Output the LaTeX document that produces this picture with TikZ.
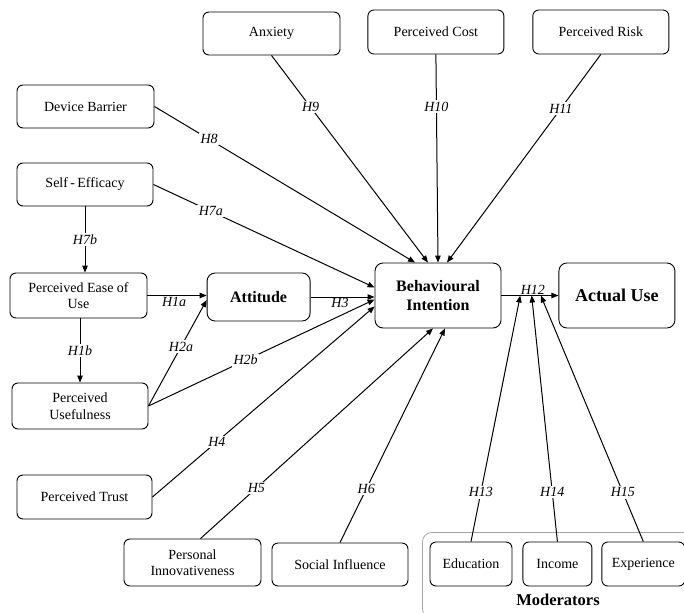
\documentclass[tikz,border=0pt]{standalone}
\usepackage{fontspec}
\setmainfont{Liberation Serif}
\usetikzlibrary{arrows.meta, positioning, fit, calc}

\begin{document}
\begin{tikzpicture}[x=1pt, y=-1pt,
    every node/.style={align=center},
    arrow/.style={-{Triangle[length=7pt, width=5.5pt]}, line width=1pt},
    box/.style={
        draw,
        line width=0.9pt,
        rounded corners=6pt,
        minimum width=136pt,
        minimum height=44pt,
        inner sep=2pt,
        font=\fontsize{14}{16.5}\selectfont
    },
    mainbox/.style={
        box,
        rounded corners=8pt,
        minimum width=126pt,
        minimum height=65pt,
        font=\fontsize{16}{19}\selectfont\bfseries
    },
    hyp/.style={fill=white, inner sep=1.5pt, font=\fontsize{14}{15}\selectfont\itshape},
    hypline/.style={inner sep=1pt, font=\fontsize{14}{15}\selectfont\itshape},
    group/.style={draw=black!35, line width=0.8pt, rounded corners=9pt}]

    \useasboundingbox (0,0) rectangle (684,612);

    % Central constructs
    \node[mainbox] (bi) at (438,295.5) {Behavioural\\Intention};
    \node[mainbox, minimum width=116pt, font=\fontsize{18}{20}\selectfont\bfseries, right=57pt of bi] (au) {Actual Use};
    \node[mainbox, minimum width=103pt, minimum height=48pt, left=64pt of bi, yshift=-1.5pt] (att) {Attitude};

    % Top row
    \node[box, minimum width=137pt, minimum height=43pt] (anx) at (271.5,33.5) {Anxiety};
    \node[box, right=27pt of anx, yshift=1.5pt] (cost) {Perceived Cost};
    \node[box, right=28pt of cost] (risk) {Perceived Risk};

    % Left column
    \node[box, minimum width=137pt, minimum height=43pt] (db) at (85.5,106.5) {Device Barrier};
    \node[box, minimum height=43pt] (se) at (85,184.5) {Self\,-\,Efficacy};
    \node[box, minimum width=137pt, minimum height=45pt] (peou) at (78.5,295.5) {Perceived Ease of\\Use};
    \node[box, minimum height=46pt] (pu) at (80,406) {Perceived\\Usefulness};
    \node[box, minimum width=135pt] (trust) at (84.5,497) {Perceived Trust};

    % Bottom row
    \node[box, minimum width=137pt, minimum height=47pt] (innov) at (192.5,562.5) {Personal\\Innovativeness};
    \node[box, minimum height=43pt] (soc) at (340,564.5) {Social Influence};

    % Moderators
    \node[box, minimum width=82pt] (edu) at (471,564) {Education};
    \node[box, minimum width=69pt, right=10pt of edu] (inc) {Income};
    \node[box, minimum width=83pt, right=9pt of inc] (exp) {Experience};
    \node[font=\fontsize{16.5}{18}\selectfont\bfseries] (modlbl) at (558,600) {Moderators};
    \node[group, fit=(edu)(exp)(modlbl), inner xsep=7pt, inner ysep=9pt] (mods) {};

    % Points on the H12 path
    \coordinate (m13) at ($(bi.east)!0.33!(au.west)$);
    \coordinate (m14) at ($(bi.east)!0.53!(au.west)$);
    \coordinate (m15) at ($(bi.east)!0.69!(au.west)$);

    % Paths into Behavioural Intention
    \draw[arrow] (db.east) -- node[hyp, pos=0.21] {H8} ([xshift=-23pt]bi.north);
    \draw[arrow] (anx.south) -- node[hyp, pos=0.25] {H9} ([xshift=-10pt]bi.north);
    \draw[arrow] (cost.south) -- node[hyp, pos=0.25] {H10} (bi.north);
    \draw[arrow] (risk.south) -- node[hyp, pos=0.26] {H11} ([xshift=9pt]bi.north);
    \draw[arrow] (se.east) -- node[hyp, pos=0.26] {H7a} ([yshift=8pt]bi.west);
    \draw[arrow] (att.east) -- node[hypline, below, pos=0.46] {H3} (att.east -| bi.west);
    \draw[arrow] (pu.east) -- node[hyp, pos=0.43] {H2b} ([yshift=-4pt]bi.west);
    \draw[arrow] (trust.east) -- node[hyp, pos=0.29] {H4} ([yshift=-11pt]bi.west);
    \draw[arrow] ([xshift=8pt]innov.north) -- node[hyp, pos=0.24] {H5} ([xshift=-5pt]bi.south);
    \draw[arrow] (soc.north) -- node[hyp, pos=0.25] {H6} ([xshift=7pt]bi.south);

    % Left chain
    \draw[arrow] (se.south) -- node[hyp] {H7b} (se.south |- peou.north);
    \draw[arrow] (pu.north |- peou.south) -- node[hyp] {H1b} (pu.north);
    \draw[arrow] (peou.east) -- node[hypline, below, pos=0.45] {H1a} (peou.east -| att.west);
    \draw[arrow] (pu.east) -- node[hyp, pos=0.56] {H2a} ([yshift=-3pt]att.west);

    % Use and moderators
    \draw[arrow] (bi.east) -- node[hypline, above, pos=0.55] {H12} (au.west);
    \draw[arrow] (edu.north) -- node[hyp, pos=0.2] {H13} (m13);
    \draw[arrow] (inc.north) -- node[hyp, pos=0.2] {H14} (m14);
    \draw[arrow] (exp.north) -- node[hyp, pos=0.2] {H15} (m15);

\end{tikzpicture}
\end{document}
